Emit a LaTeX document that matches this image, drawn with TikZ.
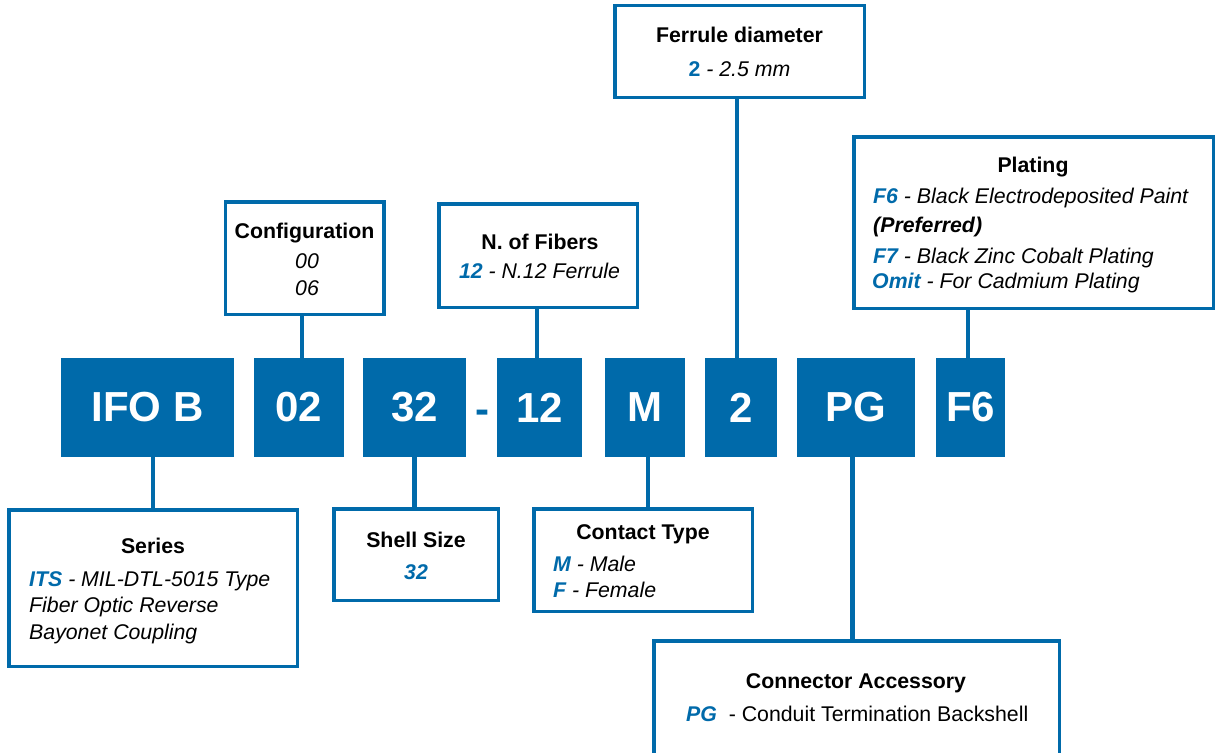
\documentclass[tikz,border=0pt]{standalone}
\usepackage{fontspec}
\setmainfont{Liberation Sans}
\definecolor{brand}{RGB}{0,106,170}
\newcommand\hl[1]{{\bfseries\color{brand}#1}}
\begin{document}
\begin{tikzpicture}[x=1pt,y=-1pt,
  obox/.style={draw=brand, line width=3.5pt, fill=white, inner sep=0pt, outer sep=0pt, rectangle},
  code/.style={fill=brand, text=white, font=\fontsize{42}{50}\selectfont\bfseries, inner sep=0pt, outer sep=0pt, minimum height=99pt},
  conn/.style={draw=brand, line width=4.5pt},
  title/.style={font=\fontsize{21.3}{25}\selectfont\bfseries, anchor=base, inner sep=0pt},
  txt/.style={font=\fontsize{21.3}{25}\selectfont\itshape, anchor=base west, inner sep=0pt},
  ctxt/.style={font=\fontsize{21.3}{25}\selectfont\itshape, anchor=base, inner sep=0pt}]
\path[use as bounding box, fill=white] (0,0) rectangle (1217,752);
\clip (0,0) rectangle (1217,752);

% code boxes
\node[code, minimum width=173pt] (ifo) at (147.5,407.5) {IFO B};
\node[code, minimum width=90pt]  (b02) at (299,407.5) {02};
\node[code, minimum width=103pt] (b32) at (414.5,407.5) {32};
\node[font=\fontsize{42}{50}\selectfont\bfseries, text=brand, inner sep=0pt, anchor=base] (dash) at (482,423) {-};
\node[code, minimum width=85pt]  (b12) at (539.5,407.5) {12};
\node[code, minimum width=80pt]  (bM)  at (645,407.5) {M};
\node[code, minimum width=72pt]  (b2)  at (741,407.5) {2};
\node[code, minimum width=118pt] (bPG) at (856,407.5) {PG};
\node[code, minimum width=69pt]  (bF6) at (970.5,407.5) {F6};

% description boxes
\node[obox, minimum width=249.5pt, minimum height=91.5pt]  (ferr) at (739.5,51.5) {};
\node[obox, minimum width=158.5pt, minimum height=112.5pt] (cfg)  at (304.5,258) {};
\node[obox, minimum width=198.5pt, minimum height=103.5pt] (fib)  at (538,255.5) {};
\node[obox, minimum width=359.5pt, minimum height=171.5pt] (plat) at (1033.5,222.5) {};
\node[obox, minimum width=288.5pt, minimum height=156.5pt] (ser)  at (153,588) {};
\node[obox, minimum width=164.5pt, minimum height=91.5pt]  (shl)  at (416,554.5) {};
\node[obox, minimum width=218.5pt, minimum height=102.5pt] (con)  at (643,560) {};
\node[obox, minimum width=405.5pt, minimum height=147.5pt] (acc)  at (856.5,714.5) {};

% connectors
\draw[conn] (ser.north) -- (ser.north |- ifo.south);
\draw[conn] ([xshift=-2.5pt]cfg.south) -- ([xshift=-2.5pt]cfg.south |- b02.north);
\draw[conn] (b32.south) -- (b32.south |- shl.north);
\draw[conn] ([xshift=-1pt]fib.south) -- ([xshift=-1pt]fib.south |- b12.north);
\draw[conn] ([xshift=3pt]bM.south) -- ([xshift=3pt]bM.south |- con.north);
\draw[conn] ([xshift=-4pt]b2.north) -- ([xshift=-4pt]b2.north |- ferr.south);
\draw[conn] ([xshift=-3.5pt]bPG.south) -- ([xshift=-3.5pt]bPG.south |- acc.north);
\draw[conn] ([xshift=-2.5pt]bF6.north) -- ([xshift=-2.5pt]bF6.north |- plat.south);

% texts
\node[title] (tferr) at (739.5,43) {Ferrule diameter};
\node[ctxt]  (lferr) at (739.5,76) {{\upshape\hl{2}} - 2.5 mm};

\node[title] (tcfg) at (304.5,238) {Configuration};
\node[ctxt]  (lcfg1) at (307,268) {00};
\node[ctxt]  (lcfg2) at (307,295) {06};

\node[title] (tfib) at (540,249) {N. of Fibers};
\node[ctxt]  (lfib) at (539.5,278) {\hl{12} - N.12 Ferrule};

\node[title] (tplat) at (1033,172) {Plating};
\node[txt] (lplat1) at (873,203) {\hl{F6} - Black Electrodeposited Paint};
\node[txt] (lplat2) at (873,232) {\bfseries(Preferred)};
\node[txt] (lplat3) at (873,263) {\hl{F7} - Black Zinc Cobalt Plating};
\node[txt] (lplat4) at (872,288) {\hl{Omit} - For Cadmium Plating};

\node[title] (tser) at (153,553) {Series};
\node[txt] (lser1) at (29,586) {\hl{ITS} - MIL-DTL-5015 Type};
\node[txt] (lser2) at (29,612) {Fiber Optic Reverse};
\node[txt] (lser3) at (29,639) {Bayonet Coupling};

\node[title] (tshl) at (416,547) {Shell Size};
\node[ctxt]  (lshl) at (416,579) {\hl{32}};

\node[title] (tcon) at (643,539) {Contact Type};
\node[txt] (lcon1) at (553,571) {\hl{M} - Male};
\node[txt] (lcon2) at (553,597) {\hl{F} - Female};

\node[title] (tacc) at (856,688) {Connector Accessory};
\node[txt] (lacc) at (686,721) {\hl{PG}\upshape\ \ - Conduit Termination Backshell};
\end{tikzpicture}
\end{document}
